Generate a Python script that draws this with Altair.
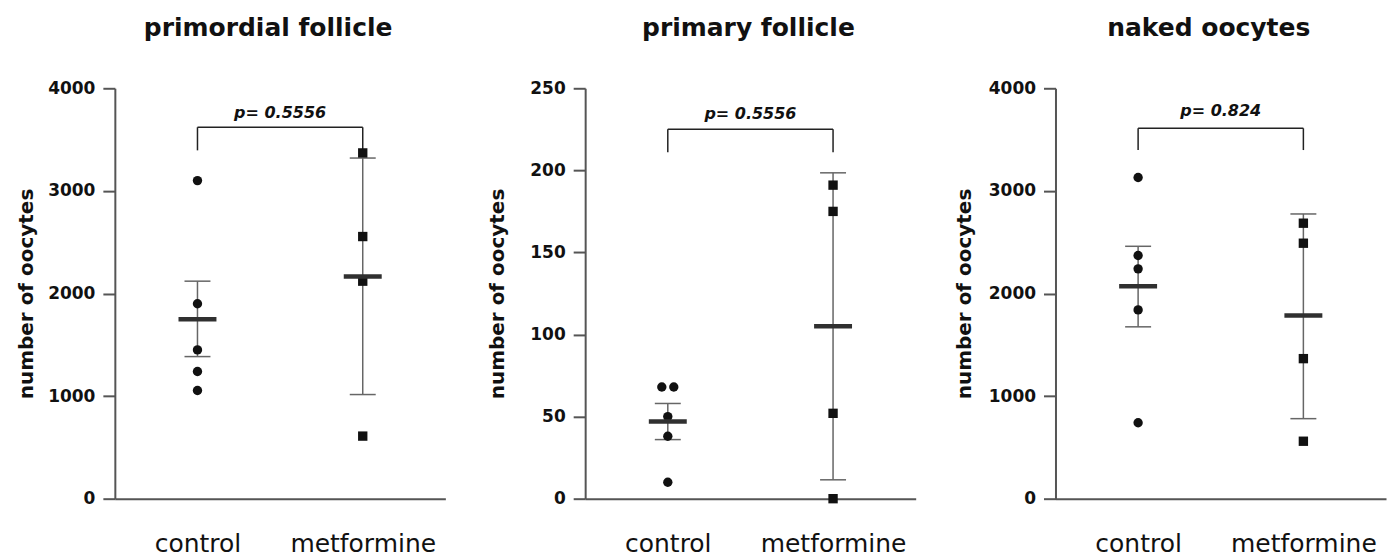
import altair as alt
import pandas as pd

groups = ["control", "metformine"]
panel_titles = ["primordial follicle", "primary follicle", "naked oocytes"]
y_title = "number of oocytes"

# values
primordial_control = [3100, 1900, 1450, 1240, 1055]
primordial_metformine = [3370, 2555, 2120, 610]
primordial_mean = [1750, 2165]
primordial_err_low = [1385, 1015]
primordial_err_high = [2120, 3320]

primary_control = [68, 68, 50, 38, 10]
primary_metformine = [191, 175, 52, 0]
primary_mean = [47, 105]
primary_err_low = [36, 11.5]
primary_err_high = [58, 198.5]

naked_control = [3130, 2370, 2240, 1840, 740]
naked_metformine = [2685, 2490, 1365, 560]
naked_mean = [2070, 1785]
naked_err_low = [1675, 780]
naked_err_high = [2460, 2775]

y_max = [4000, 250, 4000]
y_ticks = [[0, 1000, 2000, 3000, 4000], [0, 50, 100, 150, 200, 250], [0, 1000, 2000, 3000, 4000]]
bracket_top = [3620, 225, 3610]
bracket_leg = [3395, 211, 3398]
p_labels = ["p= 0.5556", "p= 0.5556", "p= 0.824"]
p_label_y = [3760, 234.5, 3780]

panels = [
    (primordial_control, primordial_metformine, primordial_mean, primordial_err_low, primordial_err_high),
    (primary_control, primary_metformine, primary_mean, primary_err_low, primary_err_high),
    (naked_control, naked_metformine, naked_mean, naked_err_low, naked_err_high),
]

AXIS_COLOR = "#555555"
INK = "#111111"
FONT = "DejaVu Sans"

W = 331
H = 411
title_dx = [-12, -2, -12]
title_x = [-88, -88, -91]


def make_panel(i):
    ctrl, metf, mean, lo, hi = panels[i]
    pts = pd.DataFrame({
        "group": ["control"] * len(ctrl) + ["metformine"] * len(metf),
        "value": ctrl + metf,
    })
    stats = pd.DataFrame({"group": groups, "mean": mean, "lo": lo, "hi": hi})
    br_h = pd.DataFrame({"g1": [groups[0]], "g2": [groups[1]], "top": [bracket_top[i]]})
    br_v = pd.DataFrame({"group": groups, "leg": [bracket_leg[i]] * 2, "top": [bracket_top[i]] * 2})
    lab = pd.DataFrame({"y": [p_label_y[i]], "text": [p_labels[i]]})

    xscale = alt.Scale(type="point", domain=groups, padding=0.5)
    yscale = alt.Scale(domain=[0, y_max[i]], nice=False)
    xaxis = alt.Axis(title=None, ticks=False, labelPadding=33, labelFontSize=25, labelFont=FONT,
                     labelColor=INK, labelAngle=0, domainColor=AXIS_COLOR, domainWidth=2, grid=False)
    yaxis = alt.Axis(values=y_ticks[i], format="d", title=y_title, tickSize=12, tickWidth=2,
                     tickColor=AXIS_COLOR, labelPadding=8, labelFont=FONT, labelFontWeight="bold",
                     labelFontSize=17, labelColor=INK, domainColor=AXIS_COLOR, domainWidth=2, grid=False,
                     titleFont=FONT, titleFontWeight="bold", titleFontSize=20, titleColor=INK,
                     titleX=title_x[i], titleBaseline="middle")

    def X(field):
        return alt.X(field, type="nominal", scale=xscale, axis=xaxis)

    def Y(field):
        return alt.Y(field, type="quantitative", scale=yscale, axis=yaxis)

    points = alt.Chart(pts).transform_window(
        n="count()", groupby=["group", "value"], frame=[None, None]
    ).transform_window(
        r="row_number()", groupby=["group", "value"]
    ).transform_calculate(
        dx="(datum.r - (datum.n + 1) / 2) * 12"
    ).mark_point(filled=True, opacity=1, color=INK, size=88).encode(
        x=X("group"), y=Y("value"),
        xOffset=alt.XOffset("dx:Q", scale=None),
        shape=alt.Shape("group:N", scale=alt.Scale(domain=groups, range=["circle", "square"]), legend=None),
    )

    err = alt.Chart(stats).mark_rule(color="#666666", strokeWidth=1.5).encode(
        x=X("group"), y=Y("lo"), y2="hi")
    cap_lo = alt.Chart(stats).mark_tick(color="#666666", opacity=1, thickness=1.5, size=26,
                                        orient="horizontal").encode(x=X("group"), y=Y("lo"))
    cap_hi = alt.Chart(stats).mark_tick(color="#666666", opacity=1, thickness=1.5, size=26,
                                        orient="horizontal").encode(x=X("group"), y=Y("hi"))
    mbar = alt.Chart(stats).mark_tick(color="#303030", opacity=1, thickness=4.5, size=38,
                                      orient="horizontal").encode(x=X("group"), y=Y("mean"))

    bh = alt.Chart(br_h).mark_rule(color="#222222", strokeWidth=1.5).encode(
        x=X("g1"), x2="g2", y=Y("top"))
    bv = alt.Chart(br_v).mark_rule(color="#222222", strokeWidth=1.5).encode(
        x=X("group"), y=Y("leg"), y2="top")
    # p-value centred over the bracket (the two groups are symmetric about the plot centre)
    ptxt = alt.Chart(lab).mark_text(
        font=FONT, fontSize=16, fontWeight="bold", fontStyle="italic", color=INK,
        baseline="middle", align="center").encode(
        x=alt.value(W / 2), y=Y("y"), text="text:N")

    return alt.layer(err, cap_lo, cap_hi, bh, bv, points, mbar, ptxt).properties(
        width=W, height=H,
        title=alt.TitleParams(text=panel_titles[i], font=FONT, fontSize=25, fontWeight="bold",
                              color=INK, anchor="middle", dx=title_dx[i], offset=38),
    )


chart = alt.hconcat(make_panel(0), make_panel(1), make_panel(2), spacing=140, bounds="flush").properties(
    padding={"left": 9, "top": 8, "right": 5, "bottom": 0},
    background="white",
).configure_view(strokeWidth=0, stroke=None)

chart.save("out.html", embed_options={"renderer": "svg", "actions": False})
